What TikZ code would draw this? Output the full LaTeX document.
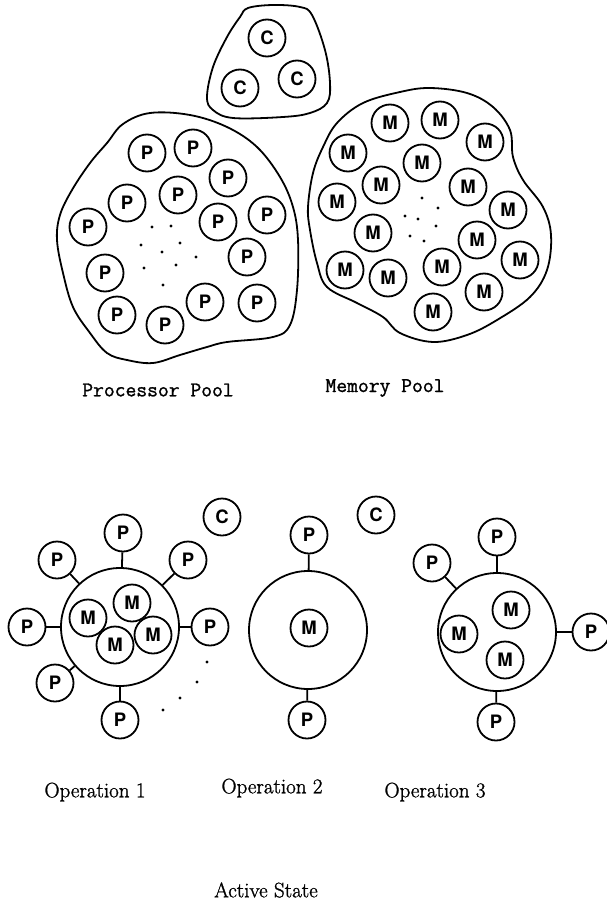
\documentclass[tikz,border=0pt]{standalone}
\usepackage{fontspec}
\setsansfont{TeX Gyre Heros}
\newfontfamily\titleserif[FakeBold=1.2]{Latin Modern Roman}
\newfontfamily\titlemono[FakeBold=1.2]{Latin Modern Mono}
\begin{document}
\begin{tikzpicture}[x=1pt,y=-1pt,
  unit/.style={circle,draw,line width=1.8pt,minimum size=37pt,inner sep=0pt,
    font=\sffamily\bfseries\fontsize{18.5}{18.5}\selectfont},
  opring/.style={circle,draw,line width=1.8pt,minimum size=118pt,inner sep=0pt},
  pool/.style={line width=1.8pt},
  link/.style={line width=1.8pt},
  pt/.style={fill,circle,inner sep=0pt,minimum size=3.2pt},
  pooltitle/.style={font=\titlemono\fontsize{21}{21}\selectfont},
  optitle/.style={font=\titleserif\fontsize{21}{21}\selectfont}]
\useasboundingbox (0,0) rectangle (607,902);

% ---------- control pool ----------
\draw[pool] plot[smooth cycle,tension=0.6] coordinates {
  (248,8) (273,5) (300,7) (312,15) (325,50) (330,83) (327,103) (310,113)
  (283,117) (233,118) (213,110) (207,97) (213,67) (227,37) (240,17)};
\node[unit] (c1) at (267,38) {C};
\node[unit] (c2) at (240,88) {C};
\node[unit] (c3) at (297,79) {C};

% ---------- processor pool ----------
\draw[pool] plot[smooth cycle,tension=0.6] coordinates {
  (150,113) (190,115) (227,127) (257,147) (280,177) (293,207) (298,240)
  (297,290) (290,325) (273,337) (227,342) (207,347) (180,355) (153,363)
  (127,360) (107,353) (90,333) (73,307) (63,273) (57,240) (60,215)
  (72,190) (90,163) (107,143) (123,124)};
\node[unit] (p1) at (147,153) {P};
\node[unit] (p2) at (193,148) {P};
\node[unit] (p3) at (228,178) {P};
\node[unit] (p4) at (178,195) {P};
\node[unit] (p5) at (127,203) {P};
\node[unit] (p6) at (88,227) {P};
\node[unit] (p7) at (218,222) {P};
\node[unit] (p8) at (267,215) {P};
\node[unit] (p9) at (247,257) {P};
\node[unit] (p10) at (105,273) {P};
\node[unit] (p11) at (117,315) {P};
\node[unit] (p12) at (165,325) {P};
\node[unit] (p13) at (205,302) {P};
\node[unit] (p14) at (257,303) {P};
\foreach \x/\y in {152/227,171/226,141/245,180/243,162/252,196/257,144/268,176/265,163/285}
  \node[pt] at (\x,\y) {};

% ---------- memory pool ----------
\draw[pool] plot[smooth cycle,tension=0.6] coordinates {
  (337,123) (363,103) (400,92) (430,88) (467,93) (493,107) (510,130)
  (513,157) (523,180) (543,207) (551,235) (547,270) (530,297) (497,320)
  (467,335) (433,342) (400,333) (383,317) (357,303) (327,287) (317,263)
  (310,230) (308,207) (313,173) (323,147)};
\node[unit] (m1) at (390,123) {M};
\node[unit] (m2) at (440,120) {M};
\node[unit] (m3) at (485,142) {M};
\node[unit] (m4) at (348,153) {M};
\node[unit] (m5) at (422,163) {M};
\node[unit] (m6) at (381,185) {M};
\node[unit] (m7) at (468,187) {M};
\node[unit] (m8) at (337,202) {M};
\node[unit] (m9) at (508,210) {M};
\node[unit] (m10) at (373,233) {M};
\node[unit] (m11) at (477,240) {M};
\node[unit] (m12) at (520,260) {M};
\node[unit] (m13) at (345,270) {M};
\node[unit] (m14) at (388,278) {M};
\node[unit] (m15) at (442,267) {M};
\node[unit] (m16) at (484,292) {M};
\node[unit] (m17) at (433,312) {M};
\foreach \x/\y in {422/198,438/208,405/216,418/219,436/226,410/236,424/241}
  \node[pt] at (\x,\y) {};

\node[pooltitle] (ptitle) at (158,390) {Processor Pool};
\node[pooltitle] (mtitle) at (385,388) {Memory Pool};

% ---------- operation 1 ----------
\node[opring] (o1) at (120,627) {};
\node[unit] (o1m1) at (132,603) {M};
\node[unit] (o1m2) at (88,618) {M};
\node[unit] (o1m3) at (153,635) {M};
\node[unit] (o1m4) at (115,645) {M};
\node[unit] (o1p1) at (123,533) {P};
\node[unit] (o1p2) at (57,560) {P};
\node[unit] (o1p3) at (188,560) {P};
\node[unit] (o1p4) at (27,627) {P};
\node[unit] (o1p5) at (210,627) {P};
\node[unit] (o1p6) at (55,683) {P};
\node[unit] (o1p7) at (120,720) {P};
\foreach \i in {1,...,7} \draw[link] (o1p\i) -- (o1);
\foreach \x/\y in {207/662,197/682,180/698,163/710}
  \node[pt] at (\x,\y) {};
\node[unit] (c4) at (222,517) {C};

% ---------- operation 2 ----------
\node[opring] (o2) at (308,630) {};
\node[unit] (o2m1) at (309,628) {M};
\node[unit] (o2p1) at (309,535) {P};
\node[unit] (o2p2) at (307,720) {P};
\draw[link] (o2p1) -- (o2);
\draw[link] (o2p2) -- (o2);
\node[unit] (c5) at (376,515) {C};

% ---------- operation 3 ----------
\node[opring] (o3) at (497,632) {};
\node[unit] (o3m1) at (511,610) {M};
\node[unit] (o3m2) at (459,634) {M};
\node[unit] (o3m3) at (505,660) {M};
\node[unit] (o3p1) at (497,537) {P};
\node[unit] (o3p2) at (432,563) {P};
\node[unit] (o3p3) at (591,632) {P};
\node[unit] (o3p4) at (496,722) {P};
\foreach \i in {1,...,4} \draw[link] (o3p\i) -- (o3);

% ---------- titles ----------
\node[optitle] (t1) at (95,792) {Operation 1};
\node[optitle] (t2) at (272,788) {Operation 2};
\node[optitle] (t3) at (435,792) {Operation 3};
\node[optitle] (tact) at (266,890) {Active State};
\end{tikzpicture}
\end{document}
